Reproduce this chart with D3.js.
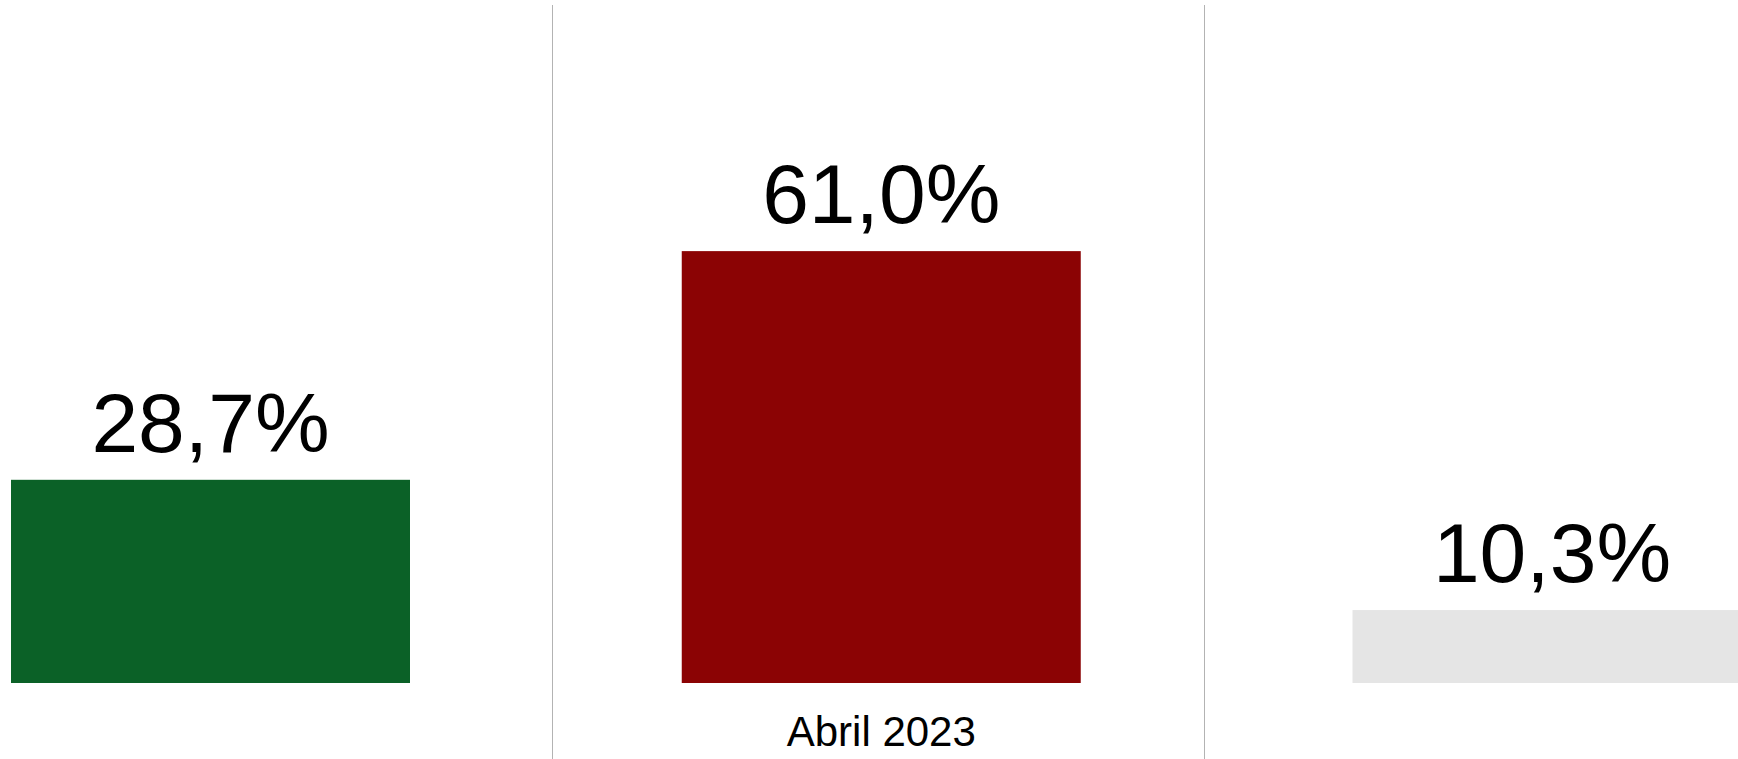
<!DOCTYPE html>
<html>
<head>
<meta charset="utf-8">
<script src="https://cdn.jsdelivr.net/npm/d3@7"></script>
<style>
  html, body { margin: 0; padding: 0; background: #fff; overflow: hidden; }
  text { font-family: "Liberation Sans", Arial, sans-serif; }
</style>
</head>
<body>
<div id="chart"></div>
<script>
// data
var categories = ["Abril 2023"];
var series = ["s1", "s2", "s3"];
var values = [28.7, 61.0, 10.3];
var barColors = ["#0b6127", "#8b0304", "#e5e5e5"];

var width = 1738, height = 759;
var barWidth = 399;

var svg = d3.select("#chart").append("svg")
    .attr("width", width)
    .attr("height", height);

// one panel per series, the chart is cut on both sides
var panel = d3.scaleBand().domain(series).range([-100, 1856]);

// bar centres
var x = d3.scalePoint().domain(series).range([210.5, 1552]);

var y = d3.scaleLinear().domain([0, 65]).range([683, 683 - 65 * 7.08]);

var fmt = function(v) { return d3.format(".1f")(v).replace(".", ",") + "%"; };

// dividers between panels
svg.append("g").selectAll("line")
    .data(series.slice(1))
  .enter().append("line")
    .attr("x1", function(d) { return Math.round(panel(d)) + 0.5; })
    .attr("x2", function(d) { return Math.round(panel(d)) + 0.5; })
    .attr("y1", 5)
    .attr("y2", height)
    .attr("stroke", "#b3b3b3")
    .attr("stroke-width", 1);

var bars = svg.append("g").selectAll("g")
    .data(series)
  .enter().append("g");

bars.append("rect")
    .attr("x", function(d) { return x(d) - barWidth / 2; })
    .attr("y", function(d, i) { return y(values[i]); })
    .attr("width", barWidth)
    .attr("height", function(d, i) { return y(0) - y(values[i]); })
    .attr("fill", function(d, i) { return barColors[i]; });

bars.append("text")
    .attr("x", function(d) { return x(d); })
    .attr("y", function(d, i) { return y(values[i]) - 28; })
    .attr("text-anchor", "middle")
    .attr("font-size", 84)
    .attr("fill", "#000")
    .text(function(d, i) { return fmt(values[i]); });

// category axis, only the middle panel shows it
var xc = d3.scaleBand().domain(categories)
    .range([x(series[1]) - barWidth / 2, x(series[1]) + barWidth / 2]);

var ax = svg.append("g")
    .attr("transform", "translate(0," + y(0) + ")")
    .call(d3.axisBottom(xc).tickSize(0).tickPadding(0));

ax.select(".domain").remove();
ax.selectAll("text")
    .attr("dy", null)
    .attr("y", 63)
    .attr("font-size", 42)
    .attr("font-family", "Liberation Sans, Arial, sans-serif")
    .attr("fill", "#000");
</script>
</body>
</html>
